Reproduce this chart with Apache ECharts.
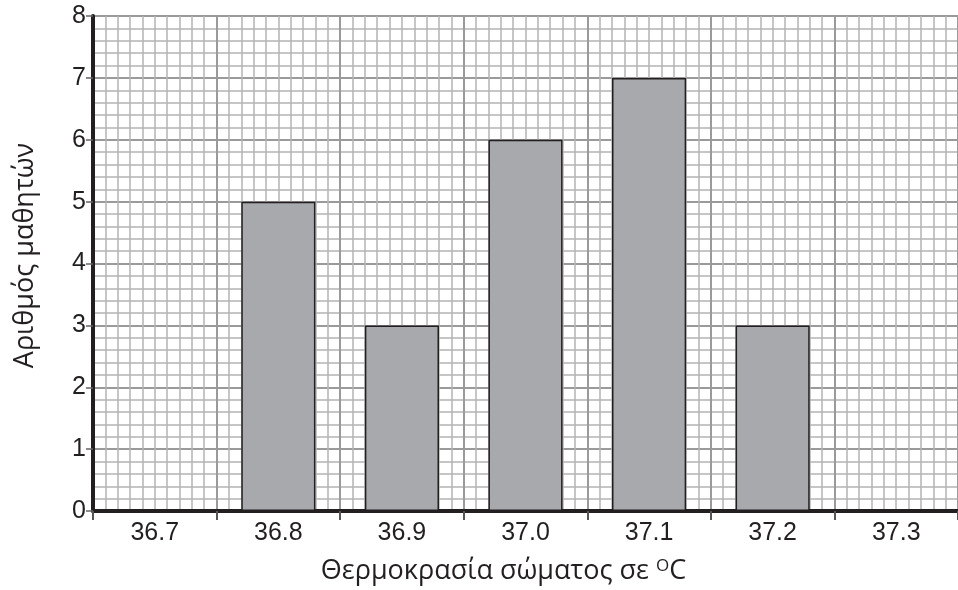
<!DOCTYPE html>
<html>
<head>
<meta charset="utf-8">
<script src="https://cdn.jsdelivr.net/npm/echarts@6/dist/echarts.min.js"></script>
<style>
html,body{margin:0;padding:0;background:#fff;}
#chart{width:958px;height:590px;}
</style>
</head>
<body>
<div id="chart"></div>
<script>
const categories = ['36.7', '36.8', '36.9', '37.0', '37.1', '37.2', '37.3'];
const students = [0, 5, 3, 6, 7, 3, 0];
const xTitle = 'Θερμοκρασία σώματος σε {sup|O}C';
const yTitle = 'Αριθμός μαθητών';

const chart = echarts.init(document.getElementById('chart'));
const major = '#9a9a9a';
const minor = '#b4b4b4';
const ink = '#231f20';
const numFont = '"Liberation Sans", Arial, sans-serif';
const titleFont = '"Open Sans", "Noto Sans", sans-serif';
chart.setOption({
  animation: false,
  backgroundColor: '#fff',
  grid: { left: 93, right: -4, top: 16, bottom: 75, containLabel: false },
  xAxis: [{
    type: 'category',
    data: categories,
    boundaryGap: true,
    position: 'bottom',
    axisLine: { show: true, lineStyle: { color: ink, width: 4 } },
    axisTick: { show: true, length: 9, lineStyle: { color: '#555', width: 2 } },
    axisLabel: { color: ink, fontSize: 25, fontFamily: numFont, margin: 10 },
    splitLine: { show: false },
    name: xTitle,
    nameLocation: 'middle',
    nameGap: 47,
    nameTextStyle: {
      color: ink, fontSize: 27, fontFamily: titleFont, padding: [0, 44, 0, 0],
      rich: { sup: { fontSize: 17, fontFamily: titleFont, color: ink, verticalAlign: 'top', padding: [0, 0, 10, 0] } }
    }
  }, {
    type: 'value',
    min: 0, max: 7, interval: 1,
    position: 'top',
    axisLine: { show: false },
    axisTick: { show: false },
    axisLabel: { show: false },
    splitLine: { show: true, lineStyle: { color: major, width: 2 } },
    minorTick: { show: false, splitNumber: 10 },
    minorSplitLine: { show: true, lineStyle: { color: minor, width: 1.5 } }
  }],
  yAxis: {
    type: 'value',
    min: 0, max: 8, interval: 1,
    axisLine: { show: true, lineStyle: { color: ink, width: 4 } },
    axisTick: { show: true, length: 7, lineStyle: { color: '#666', width: 1.5 } },
    axisLabel: { color: ink, fontSize: 25, fontFamily: numFont, margin: 7 },
    splitLine: { show: true, lineStyle: { color: major, width: 2 } },
    minorTick: { show: false, splitNumber: 5 },
    minorSplitLine: { show: true, lineStyle: { color: minor, width: 1.5 } },
    name: yTitle,
    nameLocation: 'middle',
    nameGap: 54,
    nameTextStyle: { color: ink, fontSize: 27, fontFamily: titleFont, padding: [0, 0, 0, 16] }
  },
  series: [{
    type: 'bar',
    data: students,
    xAxisIndex: 0,
    barCategoryGap: '40%',
    itemStyle: { color: '#a7a9ac', borderColor: ink, borderWidth: 1.5 },
    z: 5
  }]
});
</script>
</body>
</html>
